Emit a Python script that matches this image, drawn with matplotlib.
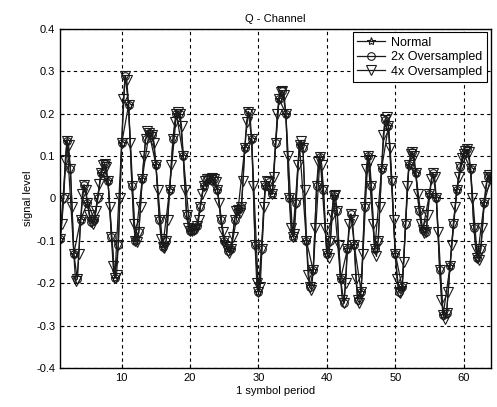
import numpy as np
import matplotlib
matplotlib.use("Agg")
import matplotlib.pyplot as plt

plt.rcParams['font.family'] = ['Liberation Sans', 'DejaVu Sans']

# Q-channel samples at quarter-symbol steps (x = 1 .. 64)
q_4x = [
    -0.095, -0.060, 0.000, 0.090,     # 1
    0.135, 0.125, 0.070, -0.020,      # 2
    -0.130, -0.195, -0.190, -0.130,   # 3
    -0.050, 0.010, 0.032, 0.020,      # 4
    -0.010, -0.040, -0.055, -0.060,   # 5
    -0.050, -0.030, 0.000, 0.035,     # 6
    0.060, 0.078, 0.082, 0.075,       # 7
    0.040, -0.020, -0.090, -0.160,    # 8
    -0.188, -0.180, -0.110, 0.000,    # 9
    0.130, 0.235, 0.290, 0.280,       # 10
    0.220, 0.130, 0.030, -0.060,      # 11
    -0.100, -0.104, -0.080, -0.020,   # 12
    0.045, 0.100, 0.140, 0.160,       # 13
    0.155, 0.145, 0.150, 0.130,       # 14
    0.080, 0.020, -0.050, -0.095,     # 15
    -0.115, -0.118, -0.100, -0.050,   # 16
    0.020, 0.080, 0.140, 0.180,       # 17
    0.200, 0.205, 0.200, 0.170,       # 18
    0.100, 0.020, -0.040, -0.070,     # 19
    -0.078, -0.078, -0.075, -0.072,   # 20
    -0.065, -0.050, -0.020, 0.010,    # 21
    0.030, 0.042, 0.046, 0.045,       # 22
    0.043, 0.048, 0.045, 0.038,       # 23
    0.020, -0.010, -0.050, -0.080,    # 24
    -0.100, -0.115, -0.125, -0.128,   # 25
    -0.120, -0.090, -0.050, -0.030,   # 26
    -0.028, -0.035, -0.020, 0.040,    # 27
    0.120, 0.180, 0.205, 0.200,       # 28
    0.140, 0.030, -0.110, -0.200,     # 29
    -0.222, -0.210, -0.120, -0.020,   # 30
    0.030, 0.040, 0.038, 0.020,       # 31
    0.010, 0.050, 0.130, 0.200,       # 32
    0.235, 0.250, 0.254, 0.245,       # 33
    0.200, 0.100, 0.000, -0.070,      # 34
    -0.090, -0.085, -0.010, 0.080,    # 35
    0.125, 0.135, 0.120, 0.020,       # 36
    -0.100, -0.180, -0.210, -0.215,   # 37
    -0.170, -0.070, 0.030, 0.085,     # 38
    0.097, 0.080, 0.020, -0.070,      # 39
    -0.130, -0.140, -0.100, -0.040,   # 40
    0.005, 0.008, -0.030, -0.110,     # 41
    -0.190, -0.240, -0.247, -0.200,   # 42
    -0.120, -0.060, -0.037, -0.050,   # 43
    -0.110, -0.190, -0.240, -0.247,   # 44
    -0.220, -0.130, -0.020, 0.070,    # 45
    0.100, 0.090, 0.030, -0.060,      # 46
    -0.120, -0.137, -0.100, -0.020,   # 47
    0.070, 0.150, 0.185, 0.193,       # 48
    0.170, 0.120, 0.040, -0.050,      # 49
    -0.130, -0.190, -0.220, -0.224,   # 50
    -0.210, -0.150, -0.060, 0.030,    # 51
    0.080, 0.105, 0.110, 0.100,       # 52
    0.060, 0.010, -0.030, -0.060,     # 53
    -0.075, -0.082, -0.080, -0.040,   # 54
    0.010, 0.045, 0.059, 0.050,       # 55
    0.000, -0.080, -0.170, -0.240,    # 56
    -0.275, -0.285, -0.270, -0.220,   # 57
    -0.160, -0.110, -0.060, -0.020,   # 58
    0.020, 0.050, 0.075, 0.095,       # 59
    0.105, 0.112, 0.116, 0.110,       # 60
    0.070, 0.000, -0.070, -0.120,     # 61
    -0.140, -0.145, -0.120, -0.070,   # 62
    -0.010, 0.030, 0.050, 0.055,      # 63
    0.050,                            # 64
]

x_4x = np.arange(len(q_4x)) / 4 + 1
x_2x, q_2x = x_4x[::2], q_4x[::2]
x_1x, q_1x = x_4x[::4], q_4x[::4]

x_ticks = [10, 20, 30, 40, 50, 60]
y_ticks = [-0.4, -0.3, -0.2, -0.1, 0, 0.1, 0.2, 0.3, 0.4]
y_labels = ["-0.4", "-0.3", "-0.2", "-0.1", "0", "0.1", "0.2", "0.3", "0.4"]

fig = plt.figure(figsize=(4.97, 4.07), dpi=100)
ax = fig.add_axes([0.121, 0.096, 0.867, 0.833])

ink = "#1a1a1a"
ax.plot(x_1x, q_1x, color=ink, lw=0.9, marker="*", ms=6,
        mfc="none", mec=ink, mew=0.8, label="Normal")
ax.plot(x_2x, q_2x, color=ink, lw=0.9, marker="o", ms=5.5,
        mfc="none", mec=ink, mew=0.8, label="2x Oversampled")
ax.plot(x_4x, q_4x, color=ink, lw=0.9, marker="v", ms=6.5,
        mfc="none", mec=ink, mew=0.8, label="4x Oversampled")

ax.set_xlim(1, 64)
ax.set_ylim(-0.4, 0.4)
ax.set_xticks(x_ticks)
ax.set_yticks(y_ticks)
ax.set_yticklabels(y_labels)
ax.tick_params(direction="in", labelsize=8, length=3)
ax.grid(True, color="black", linestyle=(0, (3, 3)), linewidth=0.8)
for s in ax.spines.values():
    s.set_linewidth(1.0)

ax.set_title("Q - Channel", fontsize=8, pad=5)
ax.set_xlabel("1 symbol period", fontsize=8, labelpad=2)
ax.set_ylabel("signal level", fontsize=8, labelpad=2)

leg = ax.legend(loc="upper right", fontsize=9, frameon=True, fancybox=False,
                edgecolor="black", framealpha=1, handlelength=2.2,
                borderpad=0.35, labelspacing=0.2, handletextpad=0.5,
                bbox_to_anchor=(0.99, 0.99), borderaxespad=0)
leg.get_frame().set_linewidth(0.8)

fig.savefig("out.png", dpi=100)
